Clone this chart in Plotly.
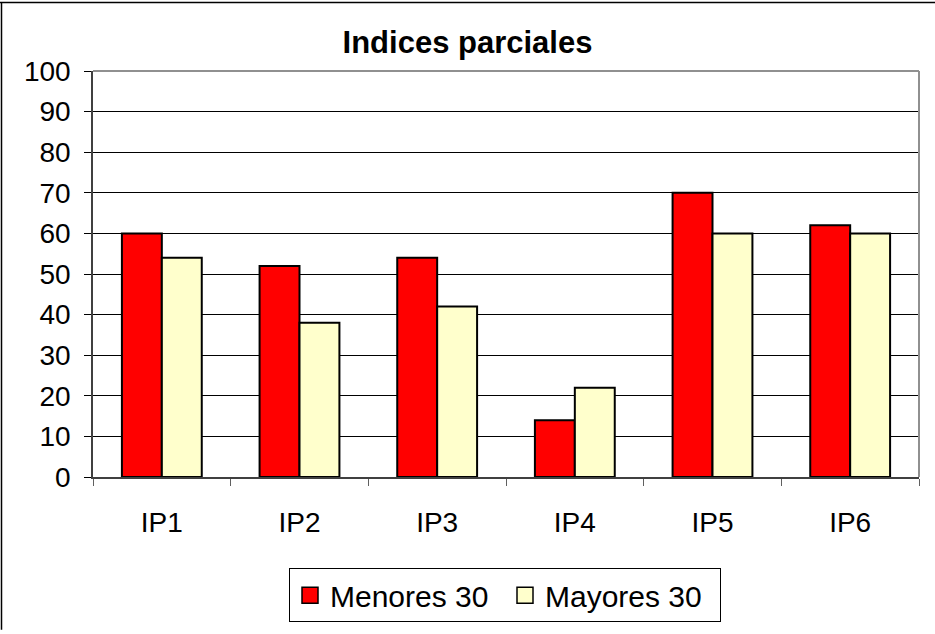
import plotly.graph_objects as go

categories = ["IP1", "IP2", "IP3", "IP4", "IP5", "IP6"]
menores_30 = [60, 52, 54, 14, 70, 62]
mayores_30 = [54, 38, 42, 22, 60, 60]

W, H = 935, 634
ML, MR, MT, MB = 93, 16, 71, 154
PW, PH = W - ML - MR, H - MT - MB


def px_x(x):
    # pixel -> paper (x)
    return (x - ML) / PW


def px_y(y):
    # pixel -> paper (y)
    return (H - MB - y) / PH


FONT = "Liberation Sans, Arial, sans-serif"
RED, CREAM = "#FF0000", "#FFFFCC"

fig = go.Figure()
for name, vals, col in [("Menores 30", menores_30, RED), ("Mayores 30", mayores_30, CREAM)]:
    fig.add_trace(go.Bar(
        x=categories, y=vals, name=name, legendgroup=name, showlegend=False,
        marker=dict(color=col, line=dict(color="black", width=2)),
    ))
    # legend-only entry with a bigger square swatch
    fig.add_trace(go.Scatter(
        x=[None], y=[None], mode="markers", name=name, legendgroup=name,
        marker=dict(symbol="square", size=18, color=col, line=dict(color="black", width=1.5)),
    ))

fig.update_layout(
    width=W, height=H,
    margin=dict(l=ML, r=MR, t=MT, b=MB, pad=0),
    paper_bgcolor="white", plot_bgcolor="white",
    font=dict(family=FONT, color="black"),
    barmode="group", bargap=0.42, bargroupgap=0,
    title=dict(
        text="<b>Indices parciales</b>", x=0.5, xref="container",
        y=1 - 42 / H, yanchor="middle", xanchor="center",
        font=dict(size=31, family=FONT, color="black"),
    ),
    showlegend=True,
    legend=dict(
        orientation="h", x=px_x(505), xanchor="center", y=px_y(572), yanchor="top",
        bordercolor="black", borderwidth=1, bgcolor="white",
        font=dict(size=30, family=FONT), traceorder="normal",
        itemsizing="trace", itemwidth=30, entrywidth=170,
    ),
)

fig.update_xaxes(
    showline=True, linecolor="#404040", linewidth=1.5,
    ticks="outside", tickson="boundaries", ticklen=7, tickcolor="#606060",
    tickfont=dict(size=28), ticklabelstandoff=20, showgrid=False,
)
fig.update_yaxes(
    range=[0, 100], dtick=10, showline=True, linecolor="#404040", linewidth=1.5,
    ticks="outside", ticklen=7, tickcolor="black",
    tickfont=dict(size=28), ticklabelstandoff=8,
    showgrid=True, gridcolor="black", gridwidth=1, zeroline=False,
)

# grey plot-area border on top and right
fig.add_shape(type="line", xref="paper", yref="paper", x0=0, x1=1, y0=1, y1=1,
              line=dict(color="#909090", width=2))
fig.add_shape(type="line", xref="paper", yref="paper", x0=1, x1=1, y0=0, y1=1,
              line=dict(color="#909090", width=2))
# outer chart border (top and left visible)
fig.add_shape(type="line", xref="paper", yref="paper",
              x0=px_x(0), x1=px_x(W), y0=px_y(2), y1=px_y(2),
              line=dict(color="black", width=1.5))
fig.add_shape(type="line", xref="paper", yref="paper",
              x0=px_x(1.5), x1=px_x(1.5), y0=px_y(2), y1=px_y(H),
              line=dict(color="black", width=1.5))

fig.write_html("out.html", config={"displayModeBar": False},
               post_script="document.body.style.margin='0';")
